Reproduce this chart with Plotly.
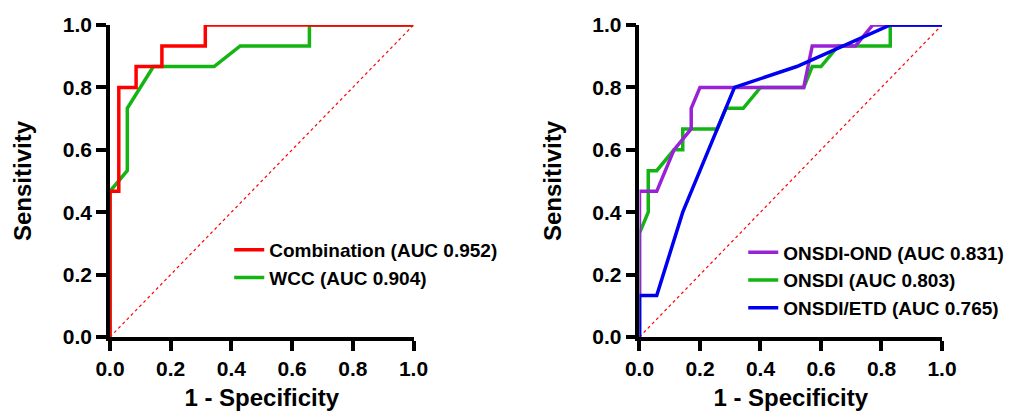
import plotly.graph_objects as go

# ---------------- data ----------------
tick_vals = [0.0, 0.2, 0.4, 0.6, 0.8, 1.0]
tick_text = ["0.0", "0.2", "0.4", "0.6", "0.8", "1.0"]
diag_x = [0.0, 1.0]
diag_y = [0.0, 1.0]

comb_name = "Combination (AUC 0.952)"
comb_fpr = [0, 0, 0.029, 0.029, 0.086, 0.086, 0.171, 0.171, 0.314, 0.314, 1.0]
comb_tpr = [0, 0.467, 0.467, 0.8, 0.8, 0.867, 0.867, 0.933, 0.933, 1.0, 1.0]

wcc_name = "WCC (AUC 0.904)"
wcc_fpr = [0, 0, 0.057, 0.057, 0.143, 0.343, 0.429, 0.657, 0.657, 1.0]
wcc_tpr = [0, 0.467, 0.533, 0.733, 0.867, 0.867, 0.933, 0.933, 1.0, 1.0]

ond_name = "ONSDI-OND (AUC 0.831)"
ond_fpr = [0, 0, 0.057, 0.114, 0.171, 0.171, 0.2, 0.543, 0.571, 0.714, 0.771, 1.0]
ond_tpr = [0, 0.467, 0.467, 0.6, 0.667, 0.733, 0.8, 0.8, 0.933, 0.933, 1.0, 1.0]

onsdi_name = "ONSDI (AUC 0.803)"
onsdi_fpr = [0, 0, 0.029, 0.029, 0.057, 0.114, 0.143, 0.143, 0.257, 0.286, 0.343,
             0.4, 0.543, 0.571, 0.6, 0.657, 0.829, 0.829, 1.0]
onsdi_tpr = [0, 0.333, 0.4, 0.533, 0.533, 0.6, 0.6, 0.667, 0.667, 0.733, 0.733,
             0.8, 0.8, 0.867, 0.867, 0.933, 0.933, 1.0, 1.0]

etd_name = "ONSDI/ETD (AUC 0.765)"
etd_fpr = [0, 0, 0.057, 0.143, 0.314, 0.52, 0.829, 1.0]
etd_tpr = [0, 0.133, 0.133, 0.4, 0.8, 0.867, 1.0, 1.0]

# ---------------- style ----------------
FONT = "Liberation Sans, Arial, Helvetica, sans-serif"
RED = "#ff0000"
GREEN = "#14b414"
PURPLE = "#9a22d6"
BLUE = "#0000f0"
LW = 3.5

fig = go.Figure()

def add_diag(xa, ya):
    fig.add_trace(go.Scatter(x=diag_x, y=diag_y, mode="lines", xaxis=xa, yaxis=ya,
                             line=dict(color=RED, width=1.2, dash="dot"),
                             showlegend=False, hoverinfo="skip", cliponaxis=False))

def add_curve(x, y, name, color, xa, ya, legend, rank):
    fig.add_trace(go.Scatter(x=x, y=y, mode="lines", name=name, xaxis=xa, yaxis=ya,
                             line=dict(color=color, width=LW), legend=legend,
                             legendrank=rank, cliponaxis=False))

# left panel
add_diag("x", "y")
add_curve(wcc_fpr, wcc_tpr, wcc_name, GREEN, "x", "y", "legend", 2)
add_curve(comb_fpr, comb_tpr, comb_name, RED, "x", "y", "legend", 1)

# right panel
add_diag("x2", "y2")
add_curve(onsdi_fpr, onsdi_tpr, onsdi_name, GREEN, "x2", "y2", "legend2", 2)
add_curve(ond_fpr, ond_tpr, ond_name, PURPLE, "x2", "y2", "legend2", 1)
add_curve(etd_fpr, etd_tpr, etd_name, BLUE, "x2", "y2", "legend2", 3)

tickfont = dict(family=FONT, size=21, color="black", weight="bold")
titlefont = dict(family=FONT, size=24, color="black", weight="bold")

def axis_common():
    return dict(range=[0, 1], tickvals=tick_vals, ticktext=tick_text,
                showline=True, linecolor="black", linewidth=3.5,
                ticks="outside", ticklen=10, tickwidth=3.5, tickcolor="black",
                showgrid=False, zeroline=False, tickfont=tickfont,
                layer="below traces", fixedrange=True, automargin=False)

xa = axis_common(); xa.update(domain=[0, 0.3648], anchor="y",
                              title=dict(text="1 - Specificity", font=titlefont, standoff=17))
ya = axis_common(); ya.update(domain=[0, 1], anchor="x",
                              title=dict(text="Sensitivity", font=titlefont, standoff=25))
xa2 = axis_common(); xa2.update(domain=[0.6364, 1], anchor="y2",
                                title=dict(text="1 - Specificity", font=titlefont, standoff=17))
ya2 = axis_common(); ya2.update(domain=[0, 1], anchor="x2",
                                title=dict(text="Sensitivity", font=titlefont, standoff=25))

legend_font = dict(family=FONT, size=19, color="black", weight="bold")

fig.update_layout(
    width=1013, height=403,
    margin=dict(l=102, r=53, t=17, b=74),
    paper_bgcolor="white", plot_bgcolor="white",
    xaxis=xa, yaxis=ya, xaxis2=xa2, yaxis2=ya2,
    legend=dict(x=0.1433, y=0.34, xanchor="left", yanchor="top", font=legend_font,
                bgcolor="rgba(0,0,0,0)", tracegroupgap=0, itemwidth=30),
    legend2=dict(x=0.7611, y=0.332, xanchor="left", yanchor="top", font=legend_font,
                 bgcolor="rgba(0,0,0,0)", tracegroupgap=0, itemwidth=30),
)

fig.write_html("out.html")
